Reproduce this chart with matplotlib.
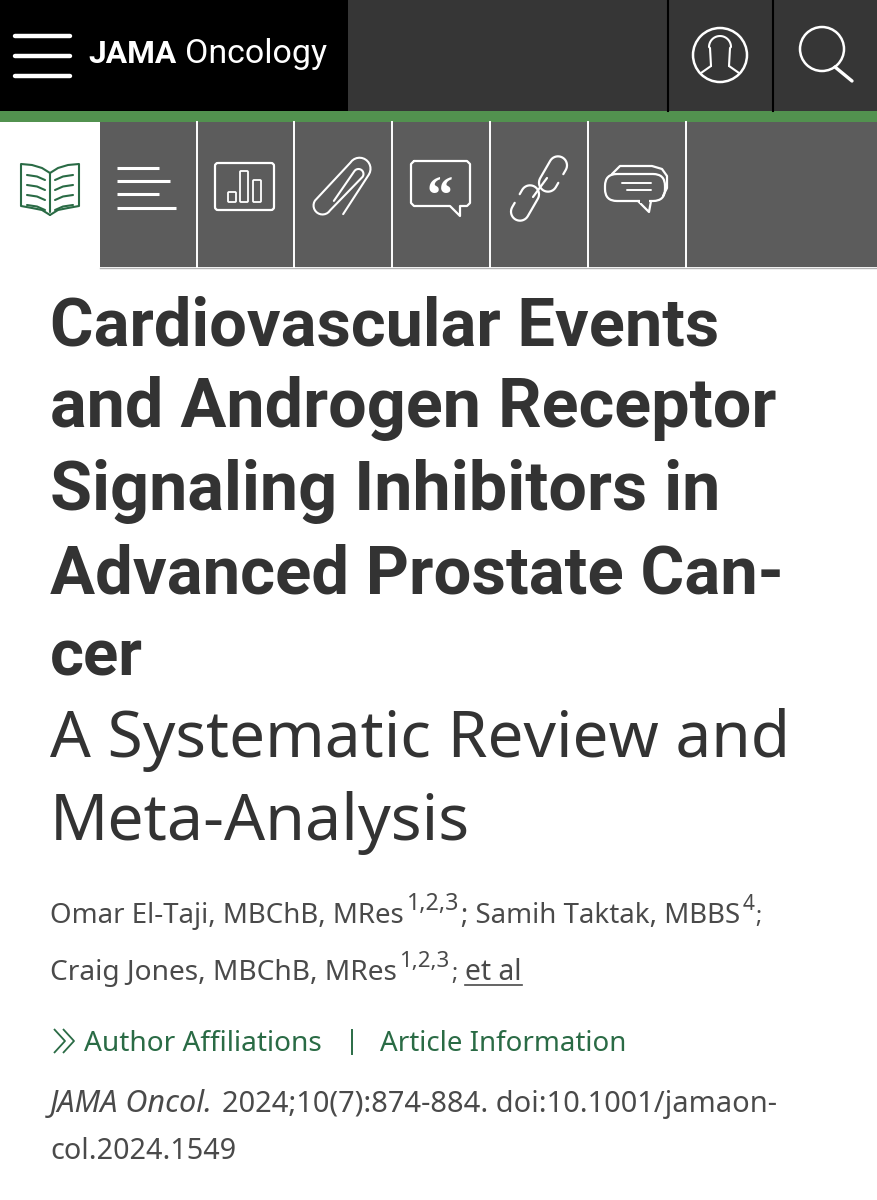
import numpy as np
import matplotlib as mpl
mpl.use("Agg")
import matplotlib.pyplot as plt
from matplotlib.patches import Rectangle, Circle, FancyBboxPatch

mpl.rcParams['font.family'] = ['Noto Sans', 'DejaVu Sans']

BLACK = "#000000"
HEADER = "#363636"
GREEN_BAR = "#52924f"
TABS = "#5c5c5c"
DARK = "#333333"
AUTHOR = "#4a4a4a"
GREEN = "#2a6b45"
BOLD_FONT = ['Roboto', 'DejaVu Sans']

TITLE_LINES = ["Cardiovascular Events", "and Androgen Receptor", "Signaling Inhibitors in",
               "Advanced Prostate Can-", "cer"]
TITLE_RIGHT = [719, 776, 719, 783, 143]
TITLE_BASE = [345, 427, 510, 593, 675]
SUB_LINES = ["A Systematic Review and", "Meta-Analysis"]
SUB_RIGHT = [790, 470]
SUB_BASE = [757, 840]
TAB_DIVIDERS = [197, 294, 392, 490, 588, 686]

fig = plt.figure(figsize=(8.77, 12), dpi=100, facecolor="white")
ax = fig.add_axes([0, 0, 1, 1])
ax.set_xlim(0, 877)
ax.set_ylim(1200, 0)
ax.axis("off")
renderer = fig.canvas.get_renderer()


def fit(x0, x1, base, s, size, **kw):
    """Put a text on a baseline and scale it to span x0..x1 pixels."""
    t = ax.text(x0, base, s, fontsize=size, va="baseline", ha="left", **kw)
    w = t.get_window_extent(renderer).width
    t.set_fontsize(size * (x1 - x0) / w)
    return t


def line(xs, ys, color="white", lw=1.5, cap="round"):
    ax.plot(xs, ys, color=color, lw=lw, solid_capstyle=cap, solid_joinstyle="round")


def rbox(x0, y0, x1, y1, r, color="white", lw=1.5, fill="none"):
    ax.add_patch(FancyBboxPatch((x0 + r, y0 + r), x1 - x0 - 2 * r, y1 - y0 - 2 * r,
                                boxstyle=f"round,pad={r},rounding_size={r}",
                                ec=color, fc=fill, lw=lw))


def chain_link(cx, cy, length, r, angle, side, stub=5, lw=1.6):
    """Stadium outline rotated by angle (deg), open along one long side."""
    t = np.linspace(-np.pi / 2, np.pi / 2, 20)
    xs = np.r_[-length / 2 + stub, -length / 2 - r * np.cos(t), length / 2 + r * np.cos(t), length / 2 - stub]
    ys = np.r_[side * r, -side * r * np.sin(t), side * r * np.sin(t), side * r]
    a = np.radians(angle)
    line(cx + xs * np.cos(a) - ys * np.sin(a), cy + xs * np.sin(a) + ys * np.cos(a), lw=lw)


# --- header bars ---
ax.add_patch(Rectangle((0, 0), 348, 111, fc=BLACK, ec="none"))
ax.add_patch(Rectangle((348, 0), 529, 111, fc=HEADER, ec="none"))
ax.add_patch(Rectangle((0, 111), 877, 11, fc=GREEN_BAR, ec="none"))
ax.add_patch(Rectangle((100, 122), 777, 145, fc=TABS, ec="none"))
ax.plot([100, 877], [267.5, 267.5], color="#b5b5b5", lw=1)
for x in (668, 773):
    ax.plot([x, x], [0, 111], color="black", lw=1.5)
for x in TAB_DIVIDERS:
    ax.plot([x, x], [122, 267], color="white", lw=1.4)

# hamburger and logo
for y in (36, 56, 76):
    line([15, 70], [y, y], lw=3.2)
fit(88, 176, 63, "JAMA", 22, color="white", weight="bold", family=BOLD_FONT)
fit(185, 327, 63, "Oncology", 22, color="white", family=['Roboto', 'DejaVu Sans'])

# user icon
ax.add_patch(Circle((720, 55), 27, ec="white", fc="none", lw=1.8))
t = np.linspace(np.pi, 2 * np.pi, 20)
hx = np.r_[711, 710, 720 + 11 * np.cos(t), 730, 729]
hy = np.r_[66, 48, 47 + 11 * np.sin(t), 48, 66]
line(hx, hy, lw=1.5)
line([711, 701], [66, 73], lw=1.5)
line([729, 739], [66, 73], lw=1.5)

# search icon
ax.add_patch(Circle((822, 49), 22, ec="white", fc="none", lw=1.8))
line([835, 852], [67, 81], lw=2.4)

# book icon
for sign in (-1, 1):
    xs = 50 + sign * np.array([0, 8, 18, 29, 29, 18, 8, 0])
    ys = np.array([173, 168, 165, 164, 206, 208, 210, 215])
    line(xs, ys, GREEN, 1.5)
    for k in range(4):
        y0 = 175 + k * 10
        line(50 + sign * np.array([5, 13, 23]), [y0 + 5, y0 + 1.5, y0], GREEN, 1.5)
line([50, 50], [173, 212], GREEN, 1.5)

# outline icon
for y, x1 in zip((168, 181, 194, 208), (159, 170, 159, 176)):
    line([117, x1], [y, y], lw=2.2, cap="butt")

# chart icon
rbox(215, 163, 274, 210, 3, lw=1.6)
for x0, x1, y0 in ((228, 236, 192), (240, 248, 171), (253, 261, 180)):
    rbox(x0, y0, x1, 202, 1, lw=1.3)

# paperclip icon
a = np.radians(-57)
t = np.linspace(0, np.pi, 14)
px = np.r_[-24, 23 + 11 * np.sin(t), -28 - 9 * np.sin(t), 18 + 5 * np.sin(t), -18]
py = np.r_[11, 11 * np.cos(t), -11 - 9 * np.cos(t), 7 - 5 * (1 - np.cos(t)), -4]
line(347 + px * np.cos(a) - py * np.sin(a), 188 + px * np.sin(a) + py * np.cos(a), lw=1.5)

# quote icon
qx = [414, 467, 470, 470, 467, 460, 460, 450, 414, 411, 411, 414]
qy = [161, 161, 164, 203, 206, 206, 216, 206, 206, 203, 164, 161]
line(qx, qy, lw=1.6)
ax.text(440, 199, "\u201c", color="white", fontsize=38, weight="bold", ha="center", va="center",
        family=["Liberation Serif", "DejaVu Sans"])

# link icon
chain_link(553, 174, 20, 9, -60, 1)
chain_link(525, 203, 20, 9, -60, -1)
line([533, 547], [197, 178], lw=1.6)

# comment icon
line([612, 620, 652, 662, 667, 667, 663], [174, 166, 166, 169, 176, 188, 196], lw=1.6)
rbox(605, 174, 665, 201, 12, lw=1.6, fill=TABS)
ax.add_patch(Rectangle((640, 199), 9, 4, fc=TABS, ec="none", zorder=3))
line([638, 649, 651], [201, 212, 201], lw=1.6)
line([622, 651], [183, 183], lw=1.4)
line([627, 651], [190, 190], lw=1.4)

# --- title ---
for s, r, b in zip(TITLE_LINES, TITLE_RIGHT, TITLE_BASE):
    fit(50, r, b, s, 46, color=DARK, weight="bold", family=BOLD_FONT)
for s, r, b in zip(SUB_LINES, SUB_RIGHT, SUB_BASE):
    fit(50, r, b, s, 44, color=DARK)

# --- authors ---
fit(50, 405, 923, "Omar El-Taji, MBChB, MRes", 21, color=AUTHOR)
fit(407, 459, 910, "1,2,3", 14, color=AUTHOR)
fit(461, 741, 923, "; Samih Taktak, MBBS", 21, color=AUTHOR)
ax.text(743, 910, "4", fontsize=15, color=AUTHOR, va="baseline")
ax.text(755, 923, ";", fontsize=17, color=AUTHOR, va="baseline")
fit(50, 398, 980, "Craig Jones, MBChB, MRes", 21, color=AUTHOR)
fit(399, 449, 967, "1,2,3", 14, color=AUTHOR)
ax.text(451, 980, ";", fontsize=17, color=AUTHOR, va="baseline")
fit(465, 522, 980, "et al", 21, color=AUTHOR)
ax.plot([465, 522], [984.5, 984.5], color=AUTHOR, lw=1.2)

# --- links ---
for x in (54, 63):
    line([x, x + 11, x], [1029, 1041, 1053], GREEN, 1.3, cap="butt")
fit(84, 322, 1051, "Author Affiliations", 20, color=GREEN)
ax.plot([352, 352], [1030, 1054], color=GREEN, lw=1.4)
fit(380, 626, 1051, "Article Information", 20, color=GREEN)

# --- citation ---
fit(50, 213, 1112, "JAMA Oncol.", 20, color=AUTHOR, style="italic")
fit(222, 778, 1112, "2024;10(7):874-884. doi:10.1001/jamaon-", 20, color=AUTHOR)
fit(50, 236, 1159, "col.2024.1549", 20, color=AUTHOR)

fig.savefig("out.png", dpi=100)
